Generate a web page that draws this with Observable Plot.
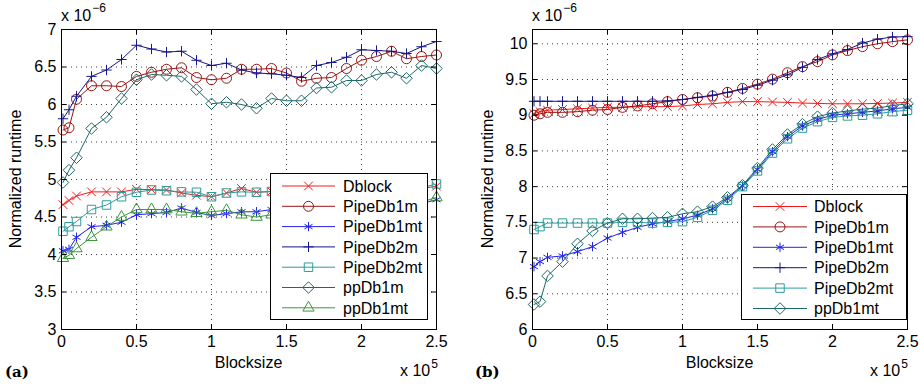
<!DOCTYPE html>
<html>
<head>
<meta charset="utf-8">
<script src="https://cdn.jsdelivr.net/npm/d3@7"></script>
<script src="https://cdn.jsdelivr.net/npm/@observablehq/plot@0.6"></script>
<style>
  html, body { margin: 0; padding: 0; background: #fff; }
  #wrap { display: flex; width: 920px; height: 385px; }
</style>
</head>
<body>
<div id="wrap"></div>
<script>
// ---- data (Blocksize in units of 1e5, runtime in units of 1e-6) ----
const blocksize = [0.01, 0.05, 0.1, 0.2, 0.3, 0.4, 0.5, 0.6, 0.7, 0.8, 0.9, 1.0, 1.1, 1.2, 1.3, 1.4, 1.5, 1.6, 1.7, 1.8, 1.9, 2.0, 2.1, 2.2, 2.3, 2.4, 2.5];
const xTicks = [0, 0.5, 1, 1.5, 2, 2.5];
const yTicksA = [3, 3.5, 4, 4.5, 5, 5.5, 6, 6.5, 7];
const yTicksB = [6, 6.5, 7, 7.5, 8, 8.5, 9, 9.5, 10];

const namesA = ["Dblock", "PipeDb1m", "PipeDb1mt", "PipeDb2m", "PipeDb2mt", "ppDb1m", "ppDb1mt"];
const a_Dblock    = [4.665, 4.72, 4.78, 4.835, 4.835, 4.835, 4.87, 4.865, 4.86, 4.82, 4.79, 4.77, 4.82, 4.88, 4.83, 4.84, 4.85, 4.84, 4.86, 4.85, 4.87, 4.86, 4.88, 4.87, 4.89, 4.88, 4.91];
const a_PipeDb1m  = [5.66, 5.69, 6.07, 6.25, 6.25, 6.24, 6.375, 6.43, 6.47, 6.49, 6.36, 6.33, 6.35, 6.47, 6.47, 6.48, 6.42, 6.31, 6.35, 6.36, 6.48, 6.59, 6.64, 6.71, 6.61, 6.64, 6.66];
const a_PipeDb1mt = [4.05, 4.07, 4.23, 4.37, 4.39, 4.43, 4.53, 4.545, 4.56, 4.62, 4.56, 4.52, 4.545, 4.57, 4.57, 4.60, 4.58, 4.59, 4.60, 4.60, 4.61, 4.62, 4.63, 4.64, 4.66, 4.68, 4.73];
const a_PipeDb2m  = [5.81, 5.93, 6.11, 6.375, 6.46, 6.60, 6.79, 6.74, 6.70, 6.71, 6.59, 6.52, 6.55, 6.46, 6.42, 6.41, 6.39, 6.36, 6.52, 6.56, 6.63, 6.73, 6.72, 6.71, 6.68, 6.77, 6.84];
const a_PipeDb2mt = [4.31, 4.37, 4.44, 4.60, 4.66, 4.77, 4.83, 4.86, 4.85, 4.835, 4.83, 4.77, 4.82, 4.835, 4.83, 4.84, 4.84, 4.85, 4.84, 4.86, 4.85, 4.87, 4.86, 4.88, 4.87, 4.89, 4.94];
const a_ppDb1m    = [4.96, 5.125, 5.29, 5.68, 5.83, 6.08, 6.33, 6.40, 6.39, 6.375, 6.20, 6.01, 6.03, 6.00, 5.95, 6.08, 6.05, 6.05, 6.22, 6.23, 6.32, 6.32, 6.40, 6.43, 6.35, 6.52, 6.48];
const a_ppDb1mt   = [3.95, 3.99, 4.08, 4.23, 4.37, 4.50, 4.60, 4.60, 4.60, 4.57, 4.55, 4.57, 4.59, 4.53, 4.50, 4.53, 4.53, 4.55, 4.56, 4.57, 4.58, 4.60, 4.62, 4.64, 4.66, 4.70, 4.76];

const namesB = ["Dblock", "PipeDb1m", "PipeDb1mt", "PipeDb2m", "PipeDb2mt", "ppDb1mt"];
const b_Dblock    = [9.02, 9.05, 9.07, 9.08, 9.09, 9.10, 9.11, 9.11, 9.12, 9.12, 9.12, 9.13, 9.15, 9.16, 9.18, 9.19, 9.19, 9.185, 9.18, 9.17, 9.165, 9.16, 9.16, 9.16, 9.165, 9.17, 9.18];
const b_PipeDb1m  = [9.00, 9.02, 9.04, 9.04, 9.05, 9.07, 9.08, 9.11, 9.13, 9.16, 9.19, 9.22, 9.245, 9.27, 9.32, 9.375, 9.435, 9.505, 9.595, 9.68, 9.75, 9.845, 9.905, 9.96, 10.0, 10.03, 10.055];
const b_PipeDb1mt = [6.88, 6.95, 7.01, 7.03, 7.09, 7.16, 7.28, 7.36, 7.43, 7.48, 7.51, 7.55, 7.60, 7.69, 7.83, 8.01, 8.24, 8.49, 8.70, 8.85, 8.94, 9.00, 9.02, 9.04, 9.06, 9.09, 9.11];
const b_PipeDb2m  = [9.195, 9.195, 9.195, 9.195, 9.195, 9.195, 9.195, 9.195, 9.195, 9.195, 9.20, 9.22, 9.25, 9.28, 9.32, 9.36, 9.42, 9.49, 9.565, 9.67, 9.78, 9.86, 9.92, 10.01, 10.065, 10.095, 10.10];
const b_PipeDb2mt = [7.40, 7.44, 7.49, 7.49, 7.49, 7.49, 7.49, 7.50, 7.50, 7.49, 7.50, 7.51, 7.57, 7.67, 7.81, 8.00, 8.22, 8.47, 8.67, 8.82, 8.91, 8.97, 8.99, 9.00, 9.02, 9.05, 9.07];
const b_ppDb1mt   = [6.35, 6.39, 6.75, 6.95, 7.20, 7.38, 7.49, 7.55, 7.55, 7.56, 7.57, 7.62, 7.65, 7.72, 7.85, 8.02, 8.26, 8.52, 8.73, 8.875, 8.98, 9.03, 9.06, 9.085, 9.10, 9.135, 9.16];

// ---- styles ----
const styleOf = {
  Dblock:    {color: "#f01c1c", symbol: "times",     r: 4.0},
  PipeDb1m:  {color: "#9c1414", symbol: "circle",    r: 5.0},
  PipeDb1mt: {color: "#2222f0", symbol: "asterisk",  r: 4.4},
  PipeDb2m:  {color: "#16168f", symbol: "plus",      r: 3.4},
  PipeDb2mt: {color: "#2e9c9c", symbol: "square2",   r: 5.4},
  ppDb1m:    {color: "#1d6868", symbol: "diamond2",  r: 5.2},
  ppDb1mt:   {color: "#3c963c", symbol: "triangle2", r: 5.4}
};
const styleB = Object.assign({}, styleOf, {ppDb1mt: {color: "#1d6868", symbol: "diamond2", r: 5.2}});

const d3Sym = {
  times: d3.symbolTimes, circle: d3.symbolCircle, asterisk: d3.symbolAsterisk, plus: d3.symbolPlus,
  square2: d3.symbolSquare2, diamond2: d3.symbolDiamond2, triangle2: d3.symbolTriangle2
};

const FONT = "'Liberation Sans', Arial, Helvetica, sans-serif";

function makePanel({names, series, styles, yDomain, yTicks, marginLeft, marginRight}) {
  const W = 460, H = 385, mt = 29, mb = 56;
  const innerW = W - marginLeft - marginRight, innerH = H - mt - mb;
  const marks = [
    Plot.gridX(xTicks.slice(1, -1), {stroke: "#000", strokeOpacity: 0.75, strokeDasharray: "1,4"}),
    Plot.gridY(yTicks.filter(t => t > yDomain[0] && t < yDomain[1]), {stroke: "#000", strokeOpacity: 0.75, strokeDasharray: "1,4"})
  ];
  names.forEach((n, k) => {
    const rows = blocksize.map((x, i) => ({x, y: series[k][i]}));
    const s = styles[n];
    marks.push(Plot.line(rows, {x: "x", y: "y", stroke: s.color, strokeWidth: 1}));
    marks.push(Plot.dot(rows, {x: "x", y: "y", symbol: s.symbol, r: s.r, stroke: s.color, strokeWidth: 1, fill: "none"}));
  });
  marks.push(
    Plot.frame({stroke: "#000", strokeWidth: 1}),
    Plot.tickX(xTicks, {x: d => d, insetTop: innerH - 5, stroke: "#000"}),
    Plot.tickX(xTicks, {x: d => d, insetBottom: innerH - 5, stroke: "#000"}),
    Plot.tickY(yTicks, {y: d => d, insetRight: innerW - 5, stroke: "#000"}),
    Plot.tickY(yTicks, {y: d => d, insetLeft: innerW - 5, stroke: "#000"}),
    Plot.axisX({ticks: xTicks, tickSize: 0, tickPadding: 6, tickFormat: d => String(d), label: null, fill: "#000"}),
    Plot.axisY({ticks: yTicks, tickSize: 0, tickPadding: 5, tickFormat: d => String(d), label: null, fill: "#000"})
  );
  return Plot.plot({
    width: W, height: H,
    marginLeft, marginRight, marginTop: mt, marginBottom: mb,
    x: {domain: [0, 2.5]},
    y: {domain: yDomain},
    style: {fontFamily: FONT, fontSize: "16px", background: "#fff", color: "#000", overflow: "visible"},
    marks
  });
}

function decorate(svgEl, o) {
  const svg = d3.select(svgEl);
  const g = svg.append("g").attr("font-family", FONT).attr("fill", "#000").attr("text-anchor", "start");
  // y label
  g.append("text").attr("transform", `translate(${o.yLabelX},179) rotate(-90)`)
    .attr("text-anchor", "middle").attr("dy", "0.35em").attr("font-size", 16).text("Normalized runtime");
  // x label
  g.append("text").attr("x", o.xLabelX).attr("y", 368).attr("text-anchor", "middle").attr("font-size", 16).text("Blocksize");
  // exponent top
  const t1 = g.append("text").attr("x", o.frameLeft).attr("y", 21).attr("font-size", 16).attr("text-anchor", "start");
  t1.append("tspan").text("x 10");
  t1.append("tspan").attr("dx", 1).attr("dy", -9).attr("font-size", 12).text("\u22126");
  // exponent bottom
  const t2 = g.append("text").attr("x", o.expBottomX).attr("y", 376).attr("font-size", 16).attr("text-anchor", "start");
  t2.append("tspan").text("x 10");
  t2.append("tspan").attr("dx", 1).attr("dy", -8).attr("font-size", 12).text("5");
  // panel label
  g.append("text").attr("x", o.panelX).attr("y", 377).attr("font-family", "'DejaVu Serif', serif")
    .attr("text-anchor", "start").attr("font-weight", "bold").attr("font-size", 15).text(o.panel);
  // legend
  const L = o.legend;
  const lg = svg.append("g").attr("font-family", FONT).attr("text-anchor", "start");
  lg.append("rect").attr("x", L.x).attr("y", L.y).attr("width", L.w).attr("height", L.h)
    .attr("fill", "#fff").attr("stroke", "#000").attr("stroke-width", 1);
  o.names.forEach((n, i) => {
    const s = o.styles[n];
    const y = L.row0 + i * L.dy;
    lg.append("line").attr("x1", L.lx1).attr("x2", L.lx2).attr("y1", y).attr("y2", y)
      .attr("stroke", s.color).attr("stroke-width", 1);
    lg.append("path").attr("d", d3.symbol(d3Sym[s.symbol], Math.PI * s.r * s.r)())
      .attr("transform", `translate(${(L.lx1 + L.lx2) / 2},${y})`)
      .attr("fill", "none").attr("stroke", s.color).attr("stroke-width", 1);
    lg.append("text").attr("x", L.tx).attr("y", y).attr("dy", "0.36em").attr("font-size", 16)
      .attr("text-anchor", "start").attr("fill", "#000").text(n);
  });
}

const wrap = document.getElementById("wrap");

const svgA = makePanel({
  names: namesA,
  series: [a_Dblock, a_PipeDb1m, a_PipeDb1mt, a_PipeDb2m, a_PipeDb2mt, a_ppDb1m, a_ppDb1mt],
  styles: styleOf, yDomain: [3, 7], yTicks: yTicksA, marginLeft: 61, marginRight: 24
});
wrap.appendChild(svgA);
decorate(svgA, {
  yLabelX: 15, xLabelX: 248.5, frameLeft: 61, expBottomX: 400, panelX: 5, panel: "(a)",
  names: namesA, styles: styleOf,
  legend: {x: 270.5, y: 173.5, w: 157, h: 146, row0: 186, dy: 20.3, lx1: 282, lx2: 335, tx: 343}
});

const svgB = makePanel({
  names: namesB,
  series: [b_Dblock, b_PipeDb1m, b_PipeDb1mt, b_PipeDb2m, b_PipeDb2mt, b_ppDb1mt],
  styles: styleB, yDomain: [6, 10.2], yTicks: yTicksB, marginLeft: 72, marginRight: 13
});
wrap.appendChild(svgB);
decorate(svgB, {
  yLabelX: 27, xLabelX: 259.5, frameLeft: 72, expBottomX: 410, panelX: 15, panel: "(b)",
  names: namesB, styles: styleB,
  legend: {x: 281.5, y: 194.5, w: 165, h: 125, row0: 206.5, dy: 20.4, lx1: 293, lx2: 347, tx: 354}
});
</script>
</body>
</html>
